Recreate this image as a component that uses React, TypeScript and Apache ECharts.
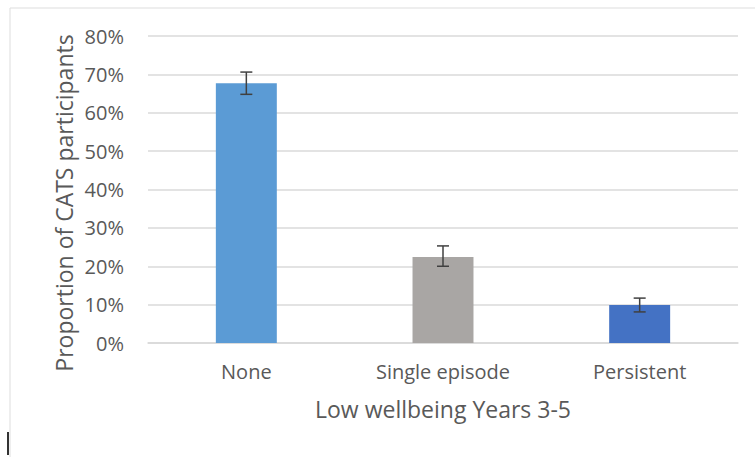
import React, { useEffect, useRef } from "react";
import * as echarts from "echarts";

const categories = ["None", "Single episode", "Persistent"];
const values = [0.677, 0.224, 0.099];
const errLow = [0.648, 0.2, 0.081];
const errHigh = [0.706, 0.253, 0.117];
const barColors = ["#5B9BD5", "#A9A6A4", "#4472C4"];
const yTicks = [0, 0.1, 0.2, 0.3, 0.4, 0.5, 0.6, 0.7, 0.8];
const yTitle = "Proportion of CATS participants";
const xTitle = "Low wellbeing Years 3-5";

export default function App() {
  const ref = useRef<HTMLDivElement>(null);
  useEffect(() => {
    if (!ref.current) return;
    const chart = echarts.init(ref.current, null, { renderer: "svg" });
    const font = "'Open Sans', 'Liberation Sans', sans-serif";
    chart.setOption({
      animation: false,
      backgroundColor: "#ffffff",
      textStyle: { fontFamily: font },
      grid: { left: 148, right: 17, top: 36, bottom: 114, containLabel: false },
      graphic: [
        {
          type: "polyline",
          shape: { points: [[10, 457], [10, 8], [755, 8]] },
          style: { stroke: "#dddddd", lineWidth: 1, fill: "none" },
          silent: true,
        },
        {
          type: "line",
          shape: { x1: 8, y1: 432, x2: 8, y2: 455 },
          style: { stroke: "#333333", lineWidth: 2 },
          silent: true,
        },
        {
          type: "text",
          x: 64,
          y: 203,
          rotation: Math.PI / 2,
          style: {
            text: yTitle,
            fontSize: 23,
            fontFamily: font,
            fill: "#595959",
            align: "center",
            verticalAlign: "middle",
          },
          silent: true,
        },
      ],
      xAxis: {
        type: "category",
        data: categories,
        name: xTitle,
        nameLocation: "middle",
        nameGap: 54,
        nameTextStyle: { fontSize: 23, color: "#595959", fontFamily: font },
        axisLine: { show: true, lineStyle: { color: "#d9d9d9", width: 1.5 } },
        axisTick: { show: false },
        axisLabel: { fontSize: 20, color: "#595959", margin: 18, fontFamily: font },
      },
      yAxis: {
        type: "value",
        min: yTicks[0],
        max: yTicks[yTicks.length - 1],
        interval: 0.1,
        axisLine: { show: false },
        axisTick: { show: false },
        splitLine: { lineStyle: { color: "#dadada", width: 1.5 } },
        axisLabel: {
          fontSize: 20,
          color: "#595959",
          margin: 24,
          fontFamily: font,
          formatter: (v: number) => Math.round(v * 100) + "%",
        },
      },
      series: [
        {
          type: "bar",
          barWidth: "31%",
          data: values.map((v, i) => ({ value: v, itemStyle: { color: barColors[i] } })),
        },
        {
          type: "custom",
          data: categories.map((_, i) => [i, errLow[i], errHigh[i]]),
          renderItem: (params: any, api: any) => {
            const x = api.value(0);
            const lo = api.coord([x, api.value(1)]);
            const hi = api.coord([x, api.value(2)]);
            const hw = 6;
            const style = { stroke: "#404040", lineWidth: 1.5 };
            return {
              type: "group",
              children: [
                { type: "line", shape: { x1: hi[0], y1: hi[1], x2: lo[0], y2: lo[1] }, style },
                { type: "line", shape: { x1: hi[0] - hw, y1: hi[1], x2: hi[0] + hw, y2: hi[1] }, style },
                { type: "line", shape: { x1: lo[0] - hw, y1: lo[1], x2: lo[0] + hw, y2: lo[1] }, style },
              ],
            };
          },
          z: 10,
        },
      ],
    });
    return () => chart.dispose();
  }, []);
  return (
    <div
      ref={ref}
      style={{ width: 755, height: 457, position: "absolute", left: 0, top: 0 }}
    />
  );
}
